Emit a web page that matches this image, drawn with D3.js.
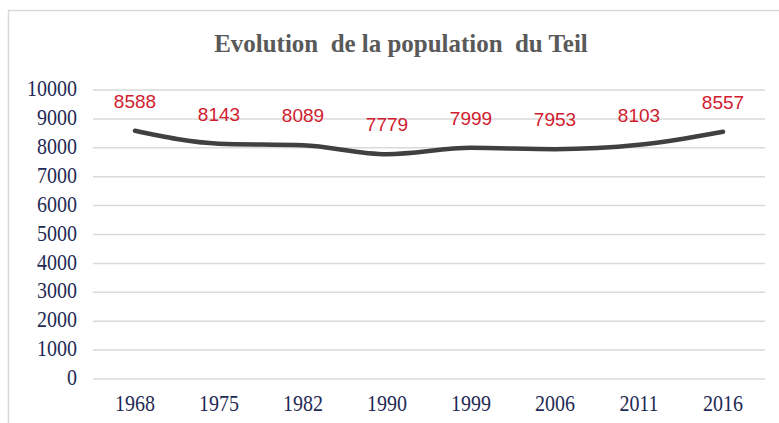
<!DOCTYPE html>
<html><head><meta charset="utf-8">
<script src="https://cdn.jsdelivr.net/npm/d3@7"></script>
<style>body{margin:0;background:#fff}svg{display:block}</style>
</head><body>
<script>
const years = ["1968","1975","1982","1990","1999","2006","2011","2016"];
const population = [8588,8143,8089,7779,7999,7953,8103,8557];
const yTicks = [0,1000,2000,3000,4000,5000,6000,7000,8000,9000,10000];
const title = "Evolution\u00a0\u00a0de la population\u00a0\u00a0du Teil";

const W = 779, H = 423;
const m = {left: 93, right: 14, top: 90, bottom: 44};
const svg = d3.select("body").append("svg").attr("width", W).attr("height", H);

// frame
svg.append("line").attr("x1", 8).attr("x2", W).attr("y1", 10.5).attr("y2", 10.5).attr("stroke", "#d9d9d9").attr("stroke-width", 1.5);
svg.append("line").attr("x1", 8.5).attr("x2", 8.5).attr("y1", 10).attr("y2", H).attr("stroke", "#d9d9d9").attr("stroke-width", 1.5);

const x = d3.scaleBand().domain(years).range([m.left, W - m.right]);
const y = d3.scaleLinear().domain([0, 10000]).range([H - m.bottom, m.top]);

// gridlines
svg.append("g").selectAll("line").data(yTicks).join("line")
  .attr("x1", m.left).attr("x2", W - m.right)
  .attr("y1", d => y(d)).attr("y2", d => y(d))
  .attr("stroke", "#d9d9d9").attr("stroke-width", 1.5);

// y axis
const ya = svg.append("g").attr("transform", `translate(${m.left},0)`)
  .call(d3.axisLeft(y).tickValues(yTicks).tickSize(0).tickPadding(16).tickFormat(d3.format("d")));
ya.select(".domain").remove();
ya.selectAll("text").attr("font-family", "'Liberation Serif', serif").attr("font-size", 20).attr("fill", "#1f2a55")
  .attr("dy", "0.25em").attr("transform", "scale(1,1.12)");

// x axis
const xa = svg.append("g").attr("transform", `translate(0,${H - m.bottom})`)
  .call(d3.axisBottom(x).tickSize(0).tickPadding(14));
xa.select(".domain").remove();
xa.selectAll("text").attr("font-family", "'Liberation Serif', serif").attr("font-size", 20).attr("fill", "#1f2a55")
  .attr("transform", "scale(1,1.12)");

// line
const line = d3.line().x((d, i) => x(years[i]) + x.bandwidth() / 2).y(d => y(d)).curve(d3.curveMonotoneX);
svg.append("path").datum(population).attr("d", line)
  .attr("fill", "none").attr("stroke", "#404040").attr("stroke-width", 4.5).attr("stroke-linecap", "round");

// labels
svg.append("g").selectAll("text").data(population).join("text")
  .attr("x", (d, i) => x(years[i]) + x.bandwidth() / 2)
  .attr("y", d => y(d) - 23)
  .attr("text-anchor", "middle")
  .attr("font-family", "'Liberation Sans', sans-serif").attr("font-size", 19)
  .attr("fill", "#d0202f").text(d => d);

// title
svg.append("text").attr("transform", "translate(401,52) scale(0.96,1)").attr("text-anchor", "middle")
  .attr("font-family", "'Liberation Serif', serif").attr("font-weight", "bold").attr("font-size", 26)
  .attr("fill", "#595959").text(title);
</script>
</body></html>
